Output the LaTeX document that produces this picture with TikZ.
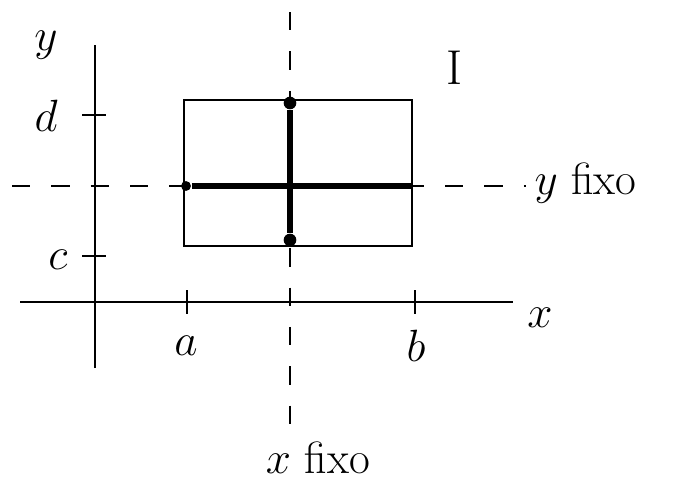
\documentclass[tikz,border=0pt]{standalone}
\usepackage{amsmath,amssymb}
\usepackage{tikz}
\usetikzlibrary{arrows.meta, calc, positioning}

\begin{document}
\begin{tikzpicture}[x=0.025cm, y=-0.025cm, line width=1.2pt,
    rotulo/.style={font=\huge, scale=1.55},
    tracejado/.style={dash pattern=on 13pt off 15pt},
    segfixo/.style={line width=3.6pt},
    ponto/.style={circle, fill=black, inner sep=0pt, minimum size=9pt}]
    \useasboundingbox (0,0) rectangle (677,482);

    % Eixos
    \coordinate (xini) at (20,302);
    \coordinate (xfim) at (513,302);
    \coordinate (ybase) at (95,368);
    \coordinate (ytopo) at (95,45);
    \draw (xini) -- (xfim);
    \draw (ybase) -- (ytopo);
    \node[rotulo] (xlab) at (540,318) {$x$};
    \node[rotulo] (ylab) at (46,45) {$y$};

    % Marcas nos eixos
    \draw (187,290) -- (187,314);
    \draw (415,290) -- (415,314);
    \draw (82,115) -- (106,115);
    \draw (82,256) -- (106,256);
    \node[rotulo] (a) at (186,346) {$a$};
    \node[rotulo] (b) at (416,346) {$b$};
    \node[rotulo] (c) at (58,260) {$c$};
    \node[rotulo] (d) at (46,116) {$d$};

    % Retangulo I
    \draw (184,100) rectangle (412,246);
    \node[font=\Huge, scale=1.4] (regiao) at (455,68) {I};

    % Retas tracejadas
    \coordinate (vtopo) at (290,12);
    \coordinate (hini) at (12,186);
    \node[rotulo] (xfixo) at (318,458) {$x$ fixo};
    \node[rotulo, anchor=west] (yfixo) at (526,183) {$y$ fixo};
    \draw[tracejado] (vtopo) -- (xfixo.north -| vtopo);
    \draw[tracejado] (hini) -- (yfixo.west |- hini);

    % Segmentos com x fixo e y fixo
    \node[ponto] (p1) at (290,103) {};
    \node[ponto] (p2) at (290,240) {};
    \node[ponto, minimum size=7pt] (p3) at (186,186) {};
    \coordinate (p4) at (412,186);
    \draw[segfixo] (p1) -- (p2);
    \draw[segfixo] (p3) -- (p4);
\end{tikzpicture}
\end{document}
